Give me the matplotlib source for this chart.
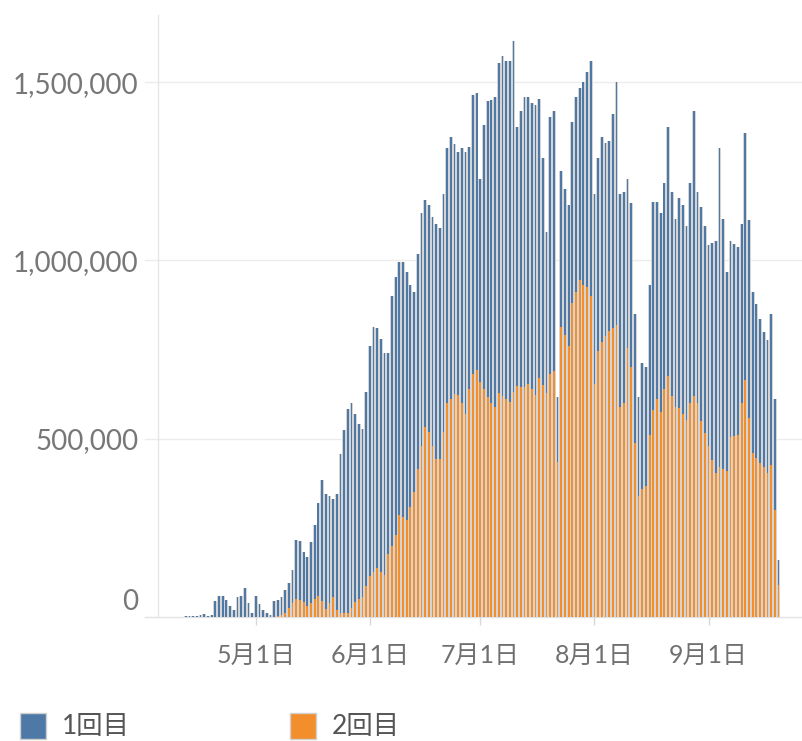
import numpy as np
import matplotlib
matplotlib.use("Agg")
import matplotlib.pyplot as plt
import matplotlib.transforms as mtransforms
from matplotlib.patches import Rectangle

# daily vaccinations, day 0 = Apr 12
total_doses = [
    3000, 3000, 4000, 3000, 5000, 9000, 4000, 5000, 44000, 58000,
    59000, 48000, 30000, 19000, 56000, 60000, 82000, 40000, 11000, 58000,
    37000, 19000, 12000, 5000, 45000, 48500, 56000, 76500, 95000, 131000,
    215000, 213000, 183000, 169000, 211000, 257000, 320000, 383000, 346000, 340000,
    332000, 346000, 458000, 523000, 584000, 600000, 570000, 540000, 528000, 631000,
    761000, 813000, 811000, 780000, 740000, 740000, 900000, 952000, 995000, 995000,
    968000, 931000, 912000, 1018000, 1133000, 1170000, 1154000, 1122000, 1101000, 1090000,
    1186000, 1314000, 1346000, 1325000, 1303000, 1316000, 1303000, 1319000, 1463000, 1468000,
    1229000, 1380000, 1447000, 1450000, 1458000, 1553000, 1572000, 1559000, 1559000, 1614000,
    1373000, 1420000, 1458000, 1458000, 1440000, 1436000, 1452000, 1287000, 1080000, 1401000,
    1418000, 617000, 1250000, 1200000, 1154000, 1388000, 1458000, 1484000, 1500000, 1527000,
    1559000, 1186000, 1287000, 1346000, 1330000, 1335000, 1410000, 1500000, 1186000, 1192000,
    1229000, 1160000, 851000, 617000, 713000, 702000, 931000, 1165000, 1165000, 1133000,
    1218000, 1373000, 1192000, 1117000, 1176000, 1154000, 1096000, 1218000, 1420000, 1192000,
    1150000, 1096000, 1043000, 1050000, 1053000, 1314000, 1117000, 968000, 1053000, 1045000,
    1037000, 1101000, 1357000, 1112000, 910000, 878000, 835000, 800000, 777000, 851000,
    612000, 160000,
]

second_dose = [
    0, 0, 0, 0, 0, 0, 0, 0, 0, 0,
    0, 0, 0, 0, 0, 0, 0, 0, 0, 0,
    0, 0, 0, 0, 0, 4000, 6000, 10000, 26000, 40000,
    50000, 47000, 43000, 30000, 40000, 50000, 60000, 45000, 22000, 40000,
    57000, 19600, 12000, 10000, 10000, 25000, 43000, 50000, 57000, 87000,
    115000, 125000, 136000, 125000, 118000, 176000, 200000, 229000, 287000, 280000,
    271000, 308000, 350000, 415000, 480000, 532000, 518000, 480000, 442000, 442000,
    520000, 601000, 610000, 625000, 622000, 600000, 569000, 638000, 680000, 692000,
    660000, 640000, 617000, 600000, 590000, 628000, 620000, 612000, 603000, 630000,
    649000, 645000, 644000, 654000, 640000, 622000, 670000, 650000, 628000, 681000,
    690000, 436000, 814000, 790000, 760000, 880000, 912000, 944000, 930000, 925000,
    900000, 654000, 745000, 770000, 787000, 803000, 810000, 819000, 590000, 600000,
    755000, 700000, 489000, 340000, 360000, 367000, 511000, 580000, 612000, 575000,
    640000, 676000, 620000, 590000, 585000, 570000, 553000, 601000, 620000, 601000,
    550000, 516000, 479000, 440000, 404000, 420000, 415000, 410000, 505000, 508000,
    511000, 600000, 665000, 559000, 460000, 447000, 431000, 420000, 404000, 426000,
    300000, 90000,
]

tick_days = [19, 50, 80, 111, 142]
tick_labels = ["5月1日", "6月1日", "7月1日", "8月1日", "9月1日"]
y_ticks = [0, 500000, 1000000, 1500000]
series_names = ["1回目", "2回目"]

BLUE = "#4e79a7"
ORANGE = "#f28e2b"
SHADE = "#d4d4d4"
FONT = ["Lato", "Noto Sans CJK JP", "DejaVu Sans"]

plt.rcParams["font.family"] = FONT

W, H = 802, 741
fig = plt.figure(figsize=(W / 100, H / 100), dpi=100)
ax = fig.add_axes([158 / W, 1 - 617 / H, 644 / W, 602 / H])

days = np.arange(len(total_doses))
total = np.array(total_doses)
second = np.array(second_dose)
first = total - second

# light backdrop bar for each day, then the narrow coloured stack on top
ax.bar(days, total, width=1.0, color=SHADE, linewidth=0, zorder=2)
ax.bar(days, second, width=0.48, color=ORANGE, linewidth=0, zorder=3)
ax.bar(days, first, width=0.48, bottom=second, color=BLUE, linewidth=0, zorder=3)

ax.set_xlim(-7.57, 167.4)
ax.set_ylim(0, 1.688e6)

for s in ["top", "right", "bottom"]:
    ax.spines[s].set_visible(False)
ax.spines["left"].set_color("#e6e6e6")
ax.spines["left"].set_linewidth(1.0)

# gridlines and baseline, reaching a little left of the axis
for v in y_ticks:
    ax.plot([-0.02, 1], [v, v], transform=ax.get_yaxis_transform(),
            color="#e2e2e2" if v == 0 else "#ececec", lw=1.0,
            zorder=1, clip_on=False)

ax.set_yticks(y_ticks)
ax.set_yticklabels([f"{v:,}" for v in y_ticks])
ax.tick_params(axis="y", length=0, pad=14, labelsize=20, labelcolor="#777777")
zero_lbl = ax.get_yticklabels()[0]
zero_lbl.set_transform(zero_lbl.get_transform()
                       + mtransforms.ScaledTranslation(0, 17 / 100, fig.dpi_scale_trans))

ax.set_xticks(tick_days)
ax.set_xticklabels(tick_labels)
ax.tick_params(axis="x", length=6, width=1, color="#d8d8d8", pad=13,
               labelsize=18, labelcolor="#707070")

# legend
for i, (name, col) in enumerate(zip(series_names, [BLUE, ORANGE])):
    x0 = 20 + i * 270
    fig.patches.append(Rectangle((x0 / W, 1 - 739 / H), 26 / W, 26 / H,
                                 transform=fig.transFigure, facecolor=col,
                                 edgecolor="#d0d0d0", lw=1.0))
    fig.text((x0 + 42) / W, 1 - 727 / H, name, va="center", ha="left",
             fontsize=19, color="#555555")

fig.savefig("out.png", dpi=100)
